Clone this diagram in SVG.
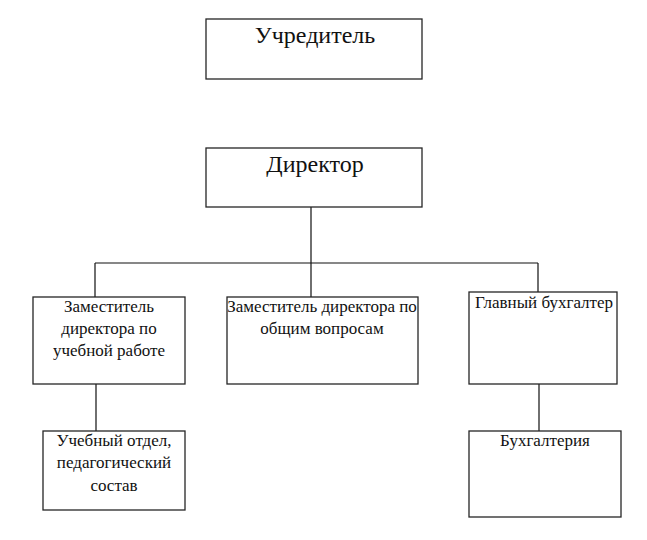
<svg xmlns="http://www.w3.org/2000/svg" width="647" height="540" viewBox="0 0 647 540">
<style>
.box{fill:#fff;stroke:#262626;stroke-width:1.3}
.big{font-family:"Liberation Serif",serif;font-size:24px;fill:#111;text-anchor:middle}
.t{font-family:"Liberation Serif",serif;font-size:17px;fill:#111;text-anchor:middle}
.c{fill:none;stroke:#111;stroke-width:1.2}
</style>
<rect width="647" height="540" fill="#fff"/>
<g id="connectors">
<path class="c" d="M311 207V297M95 263H538M95 263V297M538 263V292M96 384V431M539 384V431"/>
</g>
<g id="uchreditel">
<rect class="box" x="206" y="19" width="216" height="60"/>
<text class="big" x="315" y="43">Учредитель</text>
</g>
<g id="direktor">
<rect class="box" x="206" y="148" width="216" height="59"/>
<text class="big" x="315" y="172">Директор</text>
</g>
<g id="zam-ucheb">
<rect class="box" x="33" y="297" width="152" height="87"/>
<text class="t" x="109" y="312">Заместитель</text>
<text class="t" x="109" y="334">директора по</text>
<text class="t" x="109" y="356">учебной работе</text>
</g>
<g id="zam-obsh">
<rect class="box" x="227" y="297" width="191" height="87"/>
<text class="t" x="322" y="312">Заместитель директора по</text>
<text class="t" x="322" y="334">общим вопросам</text>
</g>
<g id="glav-buh">
<rect class="box" x="469" y="292" width="148" height="92"/>
<text class="t" x="544" y="308">Главный бухгалтер</text>
</g>
<g id="ucheb-otdel">
<rect class="box" x="43" y="431" width="142" height="79"/>
<text class="t" x="114" y="446">Учебный отдел,</text>
<text class="t" x="114" y="468">педагогический</text>
<text class="t" x="114" y="491">состав</text>
</g>
<g id="buhgalteriya">
<rect class="box" x="469" y="431" width="152" height="86"/>
<text class="t" x="545" y="446">Бухгалтерия</text>
</g>
</svg>
